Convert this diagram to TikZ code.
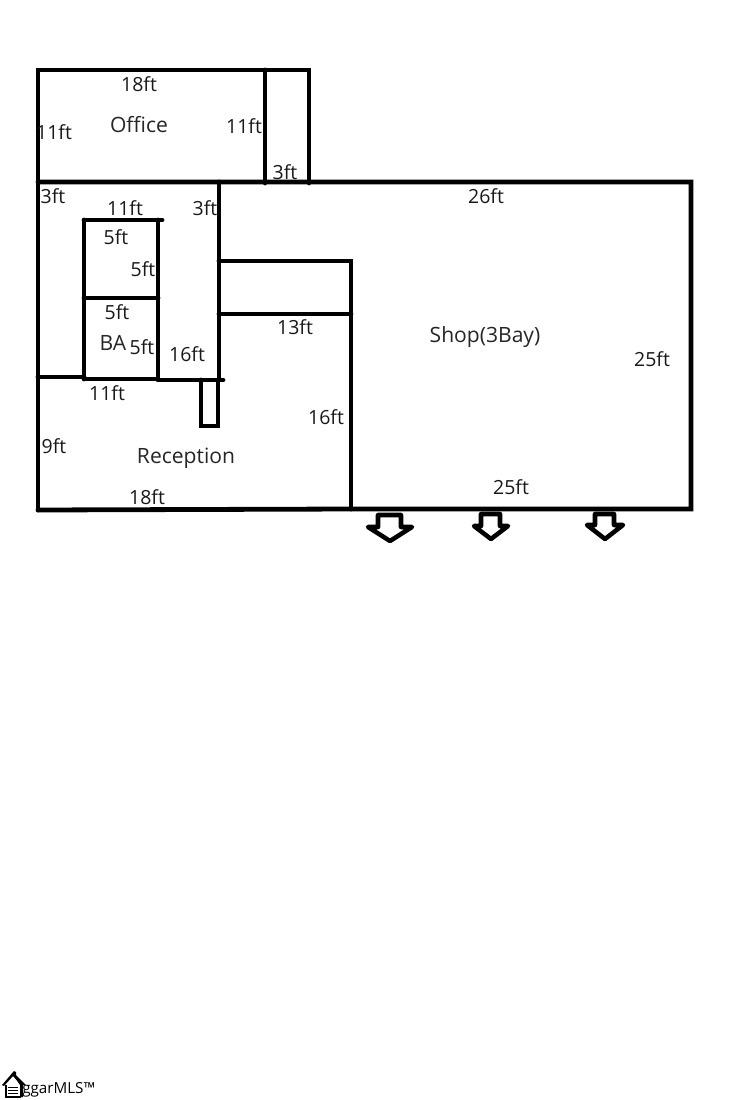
\documentclass[tikz,border=0pt]{standalone}
\usepackage{fontspec}
\setmainfont{Open Sans}
\begin{document}
\begin{tikzpicture}[x=0.75pt,y=-0.75pt,
  wall/.style={line width=3.6pt,line cap=round,line join=miter,black},
  lbl/.style={font=\fontsize{14.6pt}{16pt}\selectfont,inner sep=0pt,text=black!90},
  room/.style={font=\fontsize{15.8pt}{18pt}\selectfont,inner sep=0pt,text=black!85},
  bayarrow/.style={line width=3.4pt,line join=round,black,fill=white}]
\useasboundingbox (0,0) rectangle (750,1100);
\fill[white] (0,0) rectangle (750,1100);
% building corners
\coordinate (o1) at (38,70); \coordinate (o2) at (309,70);
\coordinate (o3) at (265,70); \coordinate (o4) at (265,183);
\coordinate (o5) at (309,183); \coordinate (w1) at (38,182);
\coordinate (e1) at (691,182); \coordinate (e2) at (691,509);
\coordinate (s1) at (38,510); \coordinate (s2) at (351,509);
\coordinate (c1) at (219,182); \coordinate (c2) at (219,380);
% outer walls and office
\draw[wall] (s1) -- (w1) -- (o1) -- (o2) -- (o5);
\draw[wall] (o3) -- (o4);
\draw[wall] (w1) -- (e1) -- (e2) -- (s2) -- (s1);
% corridor and shop partition
\draw[wall] (c1) -- (c2);
\coordinate (p1) at (219,261); \coordinate (p2) at (351,261);
\coordinate (p3) at (219,314); \coordinate (p4) at (351,314);
\draw[wall] (p1) -- (p2) -- (s2);
\draw[wall] (p3) -- (p4);
% bath block
\coordinate (b1) at (84,220); \coordinate (b2) at (162,220);
\coordinate (b3) at (84,379); \coordinate (b4) at (158,220);
\coordinate (b5) at (158,379); \coordinate (b6) at (84,298);
\coordinate (b7) at (158,298); \coordinate (b8) at (223,380);
\coordinate (b9) at (38,377); \coordinate (b10) at (84,377);
\coordinate (b11) at (158,380);
\draw[wall] (b1) -- (b2);
\draw[wall] (b1) -- (b3);
\draw[wall] (b4) -- (b5);
\draw[wall] (b6) -- (b7);
\draw[wall] (b9) -- (b10);
\draw[wall] (b3) -- (b5);
\draw[wall] (b11) -- (b8);
% closet
\coordinate (k1) at (201,380); \coordinate (k2) at (201,426);
\coordinate (k3) at (218,426); \coordinate (k4) at (218,380);
\draw[wall] (k1) -- (k2) -- (k3) -- (k4);
% bay door arrows
\draw[bayarrow] (378,515) -- (378,527) -- (368,527) -- (390,541) -- (412,527) -- (401,527) -- (401,515) -- cycle;
\draw[bayarrow] (481,514) -- (481,526) -- (474,526) -- (491,539) -- (508,526) -- (500,526) -- (500,514) -- cycle;
\draw[bayarrow] (595,514) -- (595,525) -- (587,525) -- (605,539) -- (623,525) -- (614,525) -- (614,514) -- cycle;
% room names
\node[room] (office) at (139,125) {Office};
\node[room] (reception) at (186,458) {Reception};
\node[room] (shop) at (485,337) {Shop(3Bay)};
\node[room] (ba) at (113,343) {BA};
% dimensions
\node[lbl] (d1) at (139,84) {18ft};
\node[lbl] (d2) at (54,132) {11ft};
\node[lbl] (d3) at (244,126) {11ft};
\node[lbl] (d4) at (285,172) {3ft};
\node[lbl] (d5) at (53,196) {3ft};
\node[lbl] (d6) at (125,208) {11ft};
\node[lbl] (d7) at (205,208) {3ft};
\node[lbl] (d8) at (486,196) {26ft};
\node[lbl] (d9) at (116,237) {5ft};
\node[lbl] (d10) at (143,269) {5ft};
\node[lbl] (d11) at (117,312) {5ft};
\node[lbl] (d12) at (142,347) {5ft};
\node[lbl] (d13) at (187,354) {16ft};
\node[lbl] (d14) at (295,327) {13ft};
\node[lbl] (d15) at (652,359) {25ft};
\node[lbl] (d16) at (107,393) {11ft};
\node[lbl] (d17) at (326,417) {16ft};
\node[lbl] (d18) at (54,446) {9ft};
\node[lbl] (d19) at (147,497) {18ft};
\node[lbl] (d20) at (511,487) {25ft};
% logo
\fill[black] (2,1085) -- (14,1071) -- (16,1072) -- (16,1075) -- (26,1085) -- (21,1085) -- (13,1076) -- (4,1086) -- cycle;
\draw[black,line width=0.9pt] (6,1085) -- (6,1097) -- (21,1097);
\fill[black] (14,1076) -- (23,1085) -- (23,1097) -- (20,1097) -- (20,1085) -- cycle;
\draw[black,line width=1pt] (8,1087.5) -- (18,1087.5) (8,1090.5) -- (18,1090.5) (8,1093.5) -- (18,1093.5);
\node[font=\fontsize{11.4pt}{13pt}\selectfont,inner sep=0pt,anchor=west] (logo) at (22,1090) {ggarMLS™};
\end{tikzpicture}
\end{document}
